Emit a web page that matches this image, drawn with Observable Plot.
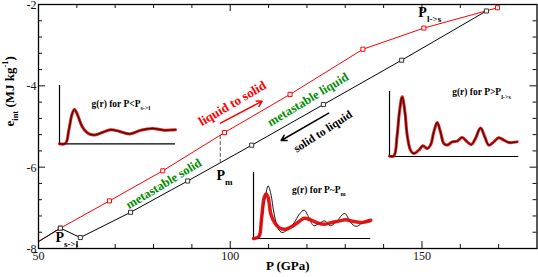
<!DOCTYPE html>
<html><head><meta charset="utf-8">
<script src="https://cdn.jsdelivr.net/npm/d3@7"></script>
<script src="https://cdn.jsdelivr.net/npm/@observablehq/plot@0.6"></script>
<style>
body{margin:0;background:#fff}
#c{position:relative;width:538px;height:277px;font-family:"Liberation Serif",serif}
#c svg{position:absolute;overflow:visible;background:transparent;max-width:none}
</style></head><body><div id="c"></div>
<script>
// Main data: internal energy vs pressure
const blackP = [50, 55.7, 60.9, 74.0, 88.9, 105.6, 124.3, 144.7, 166.8];
const blackE = [-7.83, -7.50, -7.73, -7.11, -6.34, -5.46, -4.46, -3.37, -2.16];
const redP = [50, 55.7, 68.5, 82.4, 98.5, 115.6, 134.6, 150.5, 169.7];
const redE = [-7.83, -7.50, -6.83, -6.09, -5.15, -4.21, -3.10, -2.58, -2.08];
const pmP = [97.4];
const pmE = [-5.22, -5.88];

// Ticks
const xMajor = [50, 100, 150];
const xMinor = [60, 70, 80, 90, 110, 120, 130, 140, 160, 170];
const yMajor = [-8, -6, -4, -2];
const yMinor = [-7.6, -7.2, -6.8, -6.4, -5.6, -5.2, -4.8, -4.4, -3.6, -3.2, -2.8, -2.4];

// Texts
const xLabel = "P (GPa)";
const yLabel = "e_{int} (MJ kg^{-1})";
const pLabels = ["P_{s->l}", "P_{m}", "P_{l->s}"];
const phaseTexts = ["liquid to solid", "metastable liquid", "solid to liquid", "metastable solid"];
const insetTitles = ["g(r) for P<P_{s->l}", "g(r) for P>P_{l->s}", "g(r) for P~P_{m}"];

// Inset g(r) curves
const r1 = [0, 0.52, 0.8, 1.09, 1.29, 1.52, 1.95, 2.39, 2.96, 3.68, 4.4, 5.11, 6.03, 6.98, 7.99, 8.99, 10];
const g1 = [0, 0.02, 0.69, 1.54, 1.77, 1.54, 0.89, 0.57, 0.45, 0.58, 0.72, 0.65, 0.51, 0.69, 0.79, 0.70, 0.72];
const r2 = [0, 0.34, 0.59, 0.77, 0.98, 1.19, 1.37, 1.62, 1.88, 2.27, 2.58, 2.91, 3.17, 3.43, 3.69, 3.94, 4.2, 4.46, 4.85, 5.23, 5.62, 6.01, 6.34, 6.65, 7.04, 7.37, 7.68, 8.07, 8.45, 8.84, 9.23, 9.87];
const g2 = [0.02, 0.04, 1.31, 2.75, 3.67, 2.75, 1.31, 0.39, 0.18, 0.39, 0.66, 0.49, 0.70, 1.52, 2.09, 1.52, 0.8, 0.7, 0.9, 0.94, 1.17, 0.9, 0.74, 1.11, 1.76, 1.21, 0.7, 0.9, 1.15, 1.01, 0.86, 0.9];
const r3b = [0, 0.4, 0.74, 1.02, 1.25, 1.48, 1.76, 2.1, 2.44, 2.87, 3.44, 3.92, 4.32, 4.72, 5.14, 5.63, 6.08, 6.56, 7.05, 7.78, 8.27, 8.75, 9.26, 9.72, 10];
const g3b = [0, 0.03, 1.03, 1.94, 2.39, 2.02, 1.11, 0.45, 0.27, 0.39, 0.7, 1.11, 1.29, 0.95, 0.58, 0.7, 0.8, 0.58, 0.76, 1.14, 0.73, 0.55, 0.7, 0.8, 0.76];
const r3r = [0, 0.45, 0.68, 0.91, 1.08, 1.25, 1.48, 1.82, 2.22, 2.73, 3.3, 3.86, 4.32, 4.86, 5.51, 6.08, 6.7, 7.27, 7.84, 8.55, 9.26, 10];
const g3r = [0, 0.08, 0.88, 1.86, 2.02, 1.86, 1.11, 0.7, 0.48, 0.42, 0.55, 0.76, 0.92, 0.85, 0.7, 0.65, 0.73, 0.79, 0.85, 0.77, 0.73, 0.83];

const black = blackP.map((P, i) => ({P, e: blackE[i]}));
const red = redP.map((P, i) => ({P, e: redE[i]}));
const rows = (R, G) => R.map((r, i) => ({r, g: G[i]}));

const W = 538, H = 277, mL = 38, mR = 1.5, mT = 4, mB = 29;
const pw = W - mL - mR, ph = H - mT - mB;
const FF = "Liberation Serif";
const GREEN = "#008c00";
const T = {fontFamily: FF, fontWeight: "bold"};

const main = Plot.plot({
  width: W, height: H, marginLeft: mL, marginRight: mR, marginTop: mT, marginBottom: mB,
  x: {domain: [50, 180]}, y: {domain: [-8, -2]},
  style: {fontFamily: FF, fontSize: "12px", color: "#111", background: "transparent", overflow: "visible"},
  marks: [
    Plot.axisX(xMajor, {tickSize: 0, tickPadding: 3, tickFormat: d => String(d), label: null, fontSize: 12, fontFamily: FF}),
    Plot.axisY(yMajor, {tickSize: 0, tickPadding: 2, tickFormat: d => String(d), label: null, fontSize: 12, fontFamily: FF, dy: 0.8}),
    // inward ticks on four sides
    Plot.tickX(xMajor, {x: d => d, insetTop: ph - 7}),
    Plot.tickX(xMinor, {x: d => d, insetTop: ph - 4}),
    Plot.tickX(xMajor, {x: d => d, insetBottom: ph - 7}),
    Plot.tickX(xMinor, {x: d => d, insetBottom: ph - 4}),
    Plot.tickY(yMajor, {y: d => d, insetRight: pw - 7}),
    Plot.tickY(yMinor, {y: d => d, insetRight: pw - 4}),
    Plot.tickY(yMajor, {y: d => d, insetLeft: pw - 7}),
    Plot.tickY(yMinor, {y: d => d, insetLeft: pw - 4}),
    Plot.frame({stroke: "black", strokeWidth: 1.3}),
    // dashed Pm rule
    Plot.ruleX(pmP, {x: d => d, y1: pmE[0], y2: pmE[1], stroke: "#555", strokeDasharray: "4,2", strokeWidth: 1}),
    // series
    Plot.line(red, {x: "P", y: "e", stroke: "#ff0000", strokeWidth: 1}),
    Plot.line(black, {x: "P", y: "e", stroke: "black", strokeWidth: 1}),
    Plot.dot(red, {x: "P", y: "e", filter: (d, i) => i > 0, symbol: "square", r: 2.3, stroke: "#ff0000", fill: "white", strokeWidth: 1}),
    Plot.dot(black, {x: "P", y: "e", filter: (d, i) => i > 0, symbol: "square", r: 2.3, stroke: "#333", fill: "white", strokeWidth: 1}),
    // arrows
    Plot.arrow([0], {x1: 97.45, y1: -4.919, x2: 108.32, y2: -4.378, stroke: "#ff0000", strokeWidth: 1.5, headLength: 6}),
    Plot.arrow([0], {x1: 125.68, y1: -4.673, x2: 113.27, y2: -5.344, stroke: "black", strokeWidth: 1.5, headLength: 6}),
    // phase texts
    Plot.text([phaseTexts[0]], {...T, x: 100.57, y: -4.434, text: d => d, rotate: -30.5, fill: "#ff0000", fontSize: 13}),
    Plot.text([phaseTexts[1]], {...T, x: 120.26, y: -4.336, text: d => d, rotate: -31, fill: GREEN, fontSize: 12.5}),
    Plot.text([phaseTexts[2]], {...T, x: 124.17, y: -5.123, text: d => d, rotate: -33, fill: "black", fontSize: 11.5}),
    Plot.text([phaseTexts[3]], {...T, x: 82.66, y: -6.409, text: d => d, rotate: -31, fill: GREEN, fontSize: 12.5}),
    // P labels
    Plot.text([pLabels[0]], {...T, x: 54.43, y: -7.85, text: d => d, textAnchor: "start", lineAnchor: "bottom", fontSize: 14, fill: "black"}),
    Plot.text([pLabels[1]], {...T, x: 96.4, y: -6.315, text: d => d, textAnchor: "start", lineAnchor: "bottom", fontSize: 14, fill: "black"}),
    Plot.text([pLabels[2]], {...T, x: 149.06, y: -2.307, text: d => d, textAnchor: "start", lineAnchor: "bottom", fontSize: 14, fill: "black"}),
    // axis labels
    Plot.text([xLabel], {...T, frameAnchor: "bottom", dy: 21, text: d => d, fontSize: 13, fill: "black"}),
    Plot.text([yLabel], {...T, frameAnchor: "left", dx: -29, rotate: -90, text: d => d, fontSize: 13, fill: "black"})
  ]
});
main.style.left = "0px"; main.style.top = "0px";
const c = document.getElementById("c");
c.appendChild(main);

function inset({left, top, w, h, gmax, marks, title, tx, ty}) {
  const p = Plot.plot({
    width: w, height: h, margin: 0,
    x: {domain: [0, 10], axis: null}, y: {domain: [0, gmax], axis: null},
    style: {fontFamily: FF, background: "transparent", overflow: "visible"},
    marks: [
      Plot.ruleX([0], {stroke: "black", strokeWidth: 1.2}),
      Plot.ruleY([0], {stroke: "black", strokeWidth: 1.2}),
      ...marks,
      Plot.text([title], {...T, x: tx, y: ty, text: d => d, textAnchor: "start", fontSize: 9.5, fill: "black"})
    ]
  });
  p.style.left = left + "px"; p.style.top = top + "px";
  c.appendChild(p);
}
const redThick = {x: "r", y: "g", stroke: "#e00000", strokeWidth: 3, curve: "catmull-rom", strokeOpacity: 0.9};
const blackThin = {x: "r", y: "g", stroke: "black", strokeWidth: 0.9, curve: "catmull-rom"};
inset({left: 59, top: 85, w: 116, h: 58.3, gmax: 3, title: insetTitles[0], tx: 2.76, ty: 2.05,
  marks: [Plot.line(rows(r1, g1), redThick), Plot.line(rows(r1, g1), blackThin)]});
inset({left: 389, top: 91.3, w: 129.3, h: 65, gmax: 4, title: insetTitles[1], tx: 4.85, ty: 3.95,
  marks: [Plot.line(rows(r2, g2), redThick), Plot.line(rows(r2, g2), blackThin)]});
inset({left: 252.7, top: 171.7, w: 117.3, h: 66, gmax: 3, title: insetTitles[2], tx: 3.29, ty: 2.21,
  marks: [Plot.line(rows(r3b, g3b), blackThin), Plot.line(rows(r3r, g3r), {...redThick, strokeWidth: 3.5})]});

function richText(root) {
  root.querySelectorAll("text").forEach(t => {
    const s = t.textContent;
    if (!/[_^]\{/.test(s)) return;
    const fs = parseFloat(getComputedStyle(t).fontSize) || 12;
    t.textContent = "";
    const re = /([_^])\{([^}]*)\}|([^_^]+)/g;
    let m, shift = 0;
    while ((m = re.exec(s))) {
      const ts = document.createElementNS("http://www.w3.org/2000/svg", "tspan");
      let target = 0, size = fs;
      if (m[1] === "_") { target = 0.35 * fs; size = 0.65 * fs; ts.textContent = m[2]; }
      else if (m[1] === "^") { target = -0.45 * fs; size = 0.65 * fs; ts.textContent = m[2]; }
      else ts.textContent = m[3];
      ts.setAttribute("dy", target - shift); shift = target;
      ts.setAttribute("font-size", size);
      t.appendChild(ts);
    }
  });
}
richText(c);
</script></body></html>
